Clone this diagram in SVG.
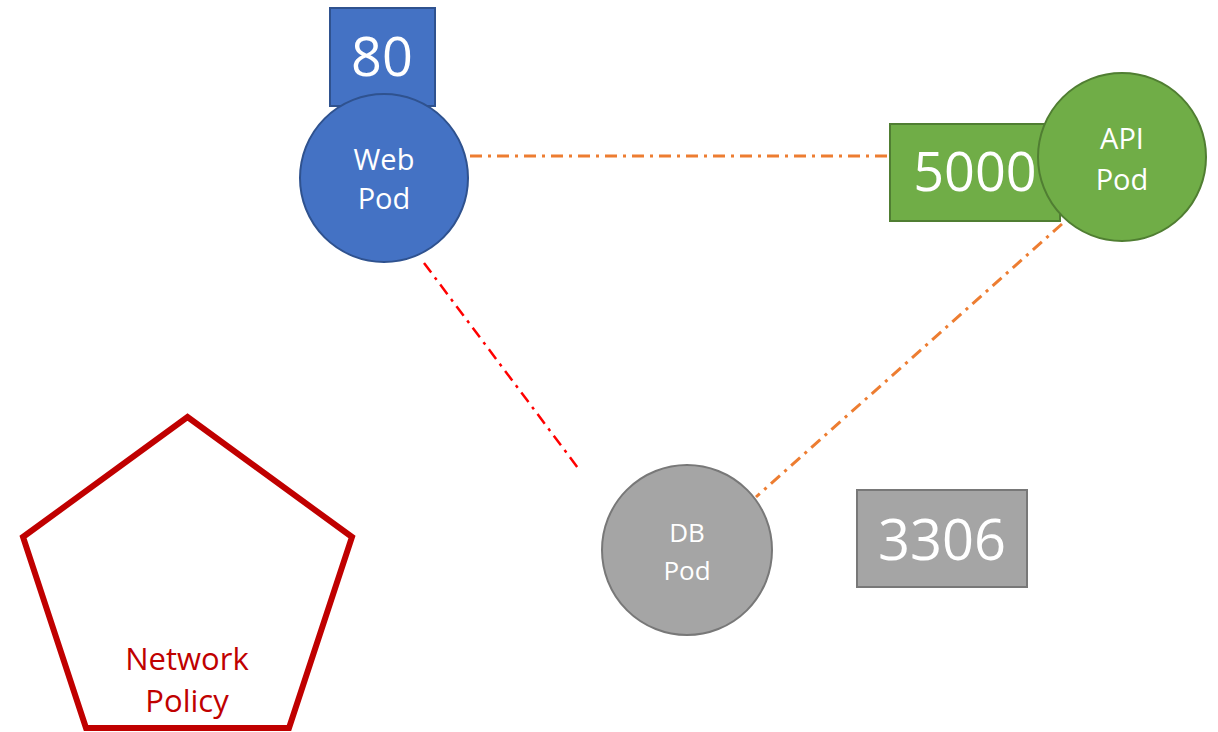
<svg xmlns="http://www.w3.org/2000/svg" width="1218" height="732" viewBox="0 0 1218 732">
<style>
text{font-family:"Open Sans","Liberation Sans",sans-serif;text-anchor:middle;fill:#fff}
.lbl{font-size:29px}
.port{font-size:54px}
.blue{fill:#4472C4;stroke:#2F528F;stroke-width:2}
.green{fill:#70AD47;stroke:#507E32;stroke-width:2}
.gray{fill:#A5A5A5;stroke:#787878;stroke-width:2}
.conn{fill:none;stroke-dasharray:12 6 3 6}
</style>
<rect width="1218" height="732" fill="#fff"/>
<g id="connectors">
<line class="conn" x1="470" y1="156" x2="890" y2="156" stroke="#ED7D31" stroke-width="3"/>
<line class="conn" x1="1062" y1="224" x2="756" y2="497" stroke="#ED7D31" stroke-width="3"/>
<line class="conn" x1="424" y1="263" x2="578" y2="468" stroke="#FF0000" stroke-width="2.5"/>
</g>
<g id="web-pod">
<rect class="blue" x="330" y="8" width="105" height="98"/>
<text class="port" x="382" y="76">80</text>
<circle class="blue" cx="384" cy="178" r="84"/>
<text class="lbl" x="384" y="170">Web</text>
<text class="lbl" x="384" y="209">Pod</text>
</g>
<g id="api-pod">
<rect class="green" x="890" y="124" width="170" height="97"/>
<text class="port" x="975" y="191">5000</text>
<circle class="green" cx="1122" cy="157" r="84"/>
<text class="lbl" x="1122" y="149">API</text>
<text class="lbl" x="1122" y="190">Pod</text>
</g>
<g id="db-pod">
<circle class="gray" cx="687" cy="550" r="85"/>
<text class="lbl" x="687" y="542" style="font-size:26px">DB</text>
<text class="lbl" x="687" y="580" style="font-size:26px">Pod</text>
</g>
<g id="port-3306">
<rect class="gray" x="857" y="490" width="170" height="97"/>
<text class="port" x="942" y="560" style="font-size:56px">3306</text>
</g>
<g id="network-policy">
<polygon points="187.5,417 352,537 289,728 86,728 23,537" fill="none" stroke="#C00000" stroke-width="6"/>
<text x="187" y="670" style="font-size:31px;fill:#C00000">Network</text>
<text x="187" y="712" style="font-size:31px;fill:#C00000">Policy</text>
</g>
</svg>
